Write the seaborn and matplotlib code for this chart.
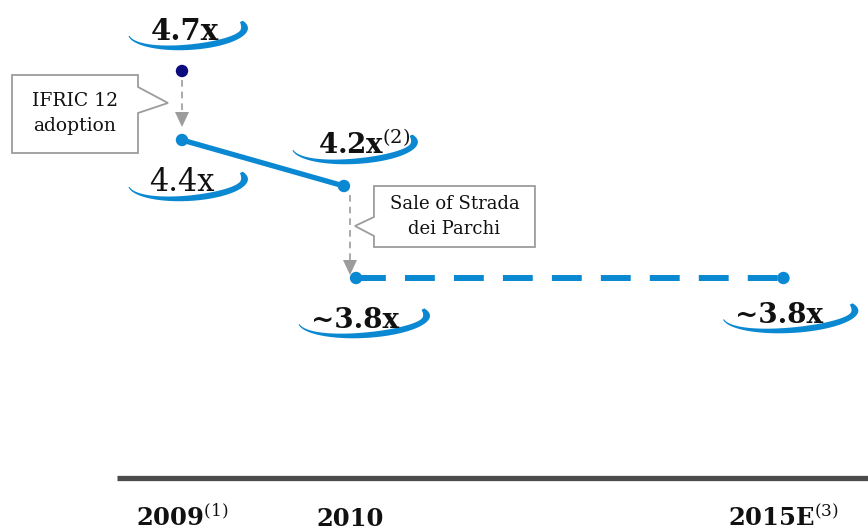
import numpy as np
import pandas as pd
import seaborn as sns
import matplotlib.pyplot as plt
import matplotlib.transforms as mtransforms
from matplotlib.patches import Polygon

# ---- data -------------------------------------------------------------
periods = ["2009", "2009", "2010", "2010", "2015E"]
stage = ["pre", "post", "pre", "post", "post"]
values = [4.7, 4.4, 4.2, 3.8, 3.8]
value_labels = ["4.7x", "4.4x", r"4.2x$^{(2)}$", "~3.8x", "~3.8x"]
year_labels = [r"2009$^{(1)}$", "2010", r"2015E$^{(3)}$"]
callouts = ["IFRIC 12\nadoption", "Sale of Strada\ndei Parchi"]

# ---- layout -------------------------------------------------------------
W, H = 868, 532
BLUE = "#0A88D2"
NAVY = "#0B0C7E"
GREY = "#9C9C9C"
slot = {"2009": 0.0, "2010": 1.0, "2015E": 3.58}
shift = {"pre": -0.036, "post": 0.036}

sns.set_theme(style="white")
plt.rcParams["font.family"] = ["DejaVu Serif"]
plt.rcParams["mathtext.fontset"] = "dejavuserif"

fig = plt.figure(figsize=(W / 100, H / 100), dpi=100)
ax = fig.add_axes([0, 0, 1, 1])
ax.set_axis_off()

df = pd.DataFrame({"period": periods, "stage": stage, "value": values})
df["x"] = [slot[p] + (shift[s] if p == "2010" else 0.0) for p, s in zip(df.period, df.stage)]

# reported leverage after adoption, before the disposal
solid = df.iloc[[1, 2]]
sns.lineplot(data=solid, x="x", y="value", color=BLUE, lw=3.8, ax=ax,
             estimator=None, sort=False)
# pro-forma path to the 2015 estimate
dashed = df.iloc[[3, 4]]
sns.lineplot(data=dashed, x="x", y="value", color=BLUE, lw=4.3, ax=ax,
             estimator=None, sort=False, linestyle=(0, (5, 3.2)))
sns.scatterplot(data=df.iloc[1:], x="x", y="value", color=BLUE, s=80,
                edgecolor="none", ax=ax, zorder=5)
sns.scatterplot(data=df.iloc[[0]], x="x", y="value", color=NAVY, s=80,
                edgecolor="none", ax=ax, zorder=5)

ax.set_xlim(-182 / 168, (W - 182) / 168)
ax.set_ylim(4.7 - (H - 71) / 230, 4.7 + 71 / 230)
ax.set_xlabel("")
ax.set_ylabel("")

ID = mtransforms.IdentityTransform()
pts = ax.transData.transform(df[["x", "value"]].to_numpy())


def scr(p, dx, dy):
    """offset in pixels, dy measured downwards"""
    return p[0] + dx, p[1] - dy


def swoosh(cx, cy, a, b=19, wmax=7, angle=3):
    t = np.linspace(np.radians(186), np.radians(383), 200)
    u = (t - t[0]) / (t[-1] - t[0])
    w = wmax * (0.15 + 0.85 * np.sin(np.pi / 2 * np.clip(u / 0.8, 0, 1)))
    w = w * (1 - 0.55 * np.clip((u - 0.86) / 0.14, 0, 1) ** 2)
    outer = np.c_[a * np.cos(t), b * np.sin(t)]
    inner = np.c_[(a - w) * np.cos(t), (b - w) * np.sin(t)]
    shape = np.vstack([outer, inner[::-1]])
    th = np.radians(angle)
    rot = np.array([[np.cos(th), -np.sin(th)], [np.sin(th), np.cos(th)]])
    shape = shape @ rot.T + np.array([cx, cy])
    ax.add_patch(Polygon(shape, closed=True, fc=BLUE, ec="none",
                         transform=ID, clip_on=False, zorder=2))


# value labels with their swooshes
label_layout = [  # text dx, text dy (baseline), swoosh dx, swoosh dy, half width, weight, size
    (3, -31, 6, -40, 60, "bold", 21),
    (0, 51, 6, 42, 60, "normal", 22),
    (20, -32, 11, -41, 63, "bold", 20),
    (-1, 50, 8, 41, 66, "bold", 20),
    (-4, 45, 7, 36, 68, "bold", 20),
]
for p, lab, (tdx, tdy, sdx, sdy, a, wt, fs) in zip(pts, value_labels, label_layout):
    sx, sy = scr(p, sdx, sdy)
    swoosh(sx, sy, a)
    tx, ty = scr(p, tdx, tdy)
    ax.text(tx, ty, lab, transform=ID, ha="center", va="baseline",
            fontsize=fs, fontweight=wt, color="#111111", zorder=6)


def grey_arrow(x, y0, y1):
    """dashed arrow pointing down from y0 to tip y1 (display coords)"""
    head = 15
    ax.plot([x, x], [y0, y1 + head], transform=ID, color=GREY, lw=1.2,
            linestyle=(0, (4, 3)), clip_on=False)
    ax.add_patch(Polygon([(x - 7, y1 + head), (x + 7, y1 + head), (x, y1)],
                         closed=True, fc=GREY, ec="none", transform=ID, clip_on=False))


p0, p1, p2, p3 = pts[0], pts[1], pts[2], pts[3]
grey_arrow(p0[0], p0[1] - 9, p1[1] + 13)
grey_arrow((p2[0] + p3[0]) / 2, p2[1] - 9, p3[1] + 3)


def callout(vertices, anchor):
    xy = [scr(anchor, dx, dy) for dx, dy in vertices]
    ax.add_patch(Polygon(xy, closed=True, fc="white", ec=GREY, lw=1.3,
                         transform=ID, clip_on=False, zorder=3))


# IFRIC 12 note, left of the first arrow
L, R, T, B = -170, -44, 4, 82
callout([(L, T), (R, T), (R, 16), (-14, 32), (R, 42), (R, B), (L, B)], p0)
tx, ty = scr(p0, (L + R) / 2, (T + B) / 2)
ax.text(tx, ty, callouts[0], transform=ID, ha="center", va="center",
        fontsize=13.5, linespacing=1.5, color="#111111", zorder=4)

# disposal note, right of the second arrow
L, R, T, B = 30, 191, 0, 61
callout([(L, T), (R, T), (R, B), (L, B), (L, 50), (11, 40), (L, 31)], p2)
tx, ty = scr(p2, (L + R) / 2, (T + B) / 2)
ax.text(tx, ty, callouts[1], transform=ID, ha="center", va="center",
        fontsize=13, linespacing=1.5, color="#111111", zorder=4)

# baseline bar and period labels
ax.plot([117, W], [H - 478, H - 478], transform=ID, color="#4B4B4B", lw=3.8,
        solid_capstyle="butt", clip_on=False)
bt = mtransforms.blended_transform_factory(ax.transData, ID)
for per, lab in zip(["2009", "2010", "2015E"], year_labels):
    ax.text(slot[per], H - 526, lab, transform=bt, ha="center", va="baseline",
            fontsize=17.5, fontweight="bold", color="#111111")

fig.savefig("out.png", dpi=100)
